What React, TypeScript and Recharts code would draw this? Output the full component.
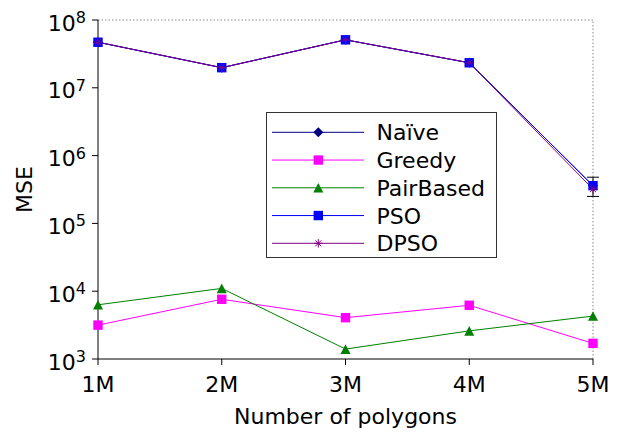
import React from 'react';
import { LineChart, Line, XAxis, YAxis, ReferenceLine, Legend, ErrorBar, Label } from 'recharts';

// Mean squared error per method, by polygon count
const categories = ['1M', '2M', '3M', '4M', '5M'];
const naive = [4.7e7, 1.98e7, 5.1e7, 2.34e7, 3.6e5];
const greedy = [3.16e3, 7.6e3, 4.07e3, 6.2e3, 1.7e3];
const pairBased = [6.3e3, 1.1e4, 1.4e3, 2.6e3, 4.3e3];
const pso = [4.7e7, 1.98e7, 5.1e7, 2.34e7, 3.6e5];
const dpso = [4.7e7, 1.98e7, 5.1e7, 2.34e7, 3.2e5];
// [below, above] error extents for DPSO
const dpsoErr: (number[] | null)[] = [null, null, null, null, [0.7e5, 1.6e5]];
const yTicks = [1e3, 1e4, 1e5, 1e6, 1e7, 1e8];

const data = categories.map((c, i) => ({
  x: c,
  naive: naive[i],
  greedy: greedy[i],
  pairBased: pairBased[i],
  pso: pso[i],
  dpso: dpso[i],
  dpsoErr: dpsoErr[i],
}));

const FONT = 'DejaVu Sans';

const COLORS = {
  naive: '#000080',
  greedy: '#ff00ff',
  pairBased: '#008000',
  pso: '#0000ff',
  dpso: '#800080',
};

type MarkerKind = 'diamond' | 'square' | 'triangle' | 'star';

const Marker = ({ kind, cx, cy, color }: { kind: MarkerKind; cx: number; cy: number; color: string }) => {
  if (kind === 'diamond') {
    const r = 5;
    return <polygon points={`${cx},${cy - r} ${cx + r},${cy} ${cx},${cy + r} ${cx - r},${cy}`} fill={color} />;
  }
  if (kind === 'square') {
    const r = 4.7;
    return <rect x={cx - r} y={cy - r} width={2 * r} height={2 * r} fill={color} />;
  }
  if (kind === 'triangle') {
    const w = 5;
    const h = 4.8;
    return <polygon points={`${cx},${cy - h} ${cx + w},${cy + h} ${cx - w},${cy + h}`} fill={color} />;
  }
  const r = 4.2;
  const d = r * 0.707;
  return (
    <g stroke={color} strokeWidth={1}>
      <line x1={cx - r} y1={cy} x2={cx + r} y2={cy} />
      <line x1={cx} y1={cy - r} x2={cx} y2={cy + r} />
      <line x1={cx - d} y1={cy - d} x2={cx + d} y2={cy + d} />
      <line x1={cx - d} y1={cy + d} x2={cx + d} y2={cy - d} />
    </g>
  );
};

const dotOf = (kind: MarkerKind, color: string) => (p: any) => (
  <Marker key={`${kind}-${color}-${p.index}`} kind={kind} cx={p.cx} cy={p.cy} color={color} />
);

const YTick = ({ x, y, payload }: any) => {
  const exp = Math.round(Math.log10(payload.value));
  return (
    <text x={x} y={y} textAnchor="end" fontSize={22} fill="#000" fontFamily={FONT}>
      <tspan dy={10.5}>10</tspan>
      <tspan fontSize={16} dy={-7.5}>{exp}</tspan>
    </text>
  );
};

const legendItems: { name: string; color: string; kind: MarkerKind }[] = [
  { name: 'Naïve', color: COLORS.naive, kind: 'diamond' },
  { name: 'Greedy', color: COLORS.greedy, kind: 'square' },
  { name: 'PairBased', color: COLORS.pairBased, kind: 'triangle' },
  { name: 'PSO', color: COLORS.pso, kind: 'square' },
  { name: 'DPSO', color: COLORS.dpso, kind: 'star' },
];

const LegendBox = () => (
  <svg width={232} height={147} style={{ display: 'block', overflow: 'visible' }}>
    <rect x={0.5} y={0.5} width={230} height={145} fill="#fff" stroke="#333" strokeWidth={1} />
    {legendItems.map((it, i) => {
      const y = 20.3 + i * 27.75;
      return (
        <g key={it.name}>
          <line x1={6} y1={y} x2={98} y2={y} stroke={it.color} strokeWidth={1} />
          <Marker kind={it.kind} cx={52.3} cy={y} color={it.color} />
          <text x={110.5} y={y + 8} fontSize={22} fontFamily={FONT} fill="#000">
            {it.name}
          </text>
        </g>
      );
    })}
  </svg>
);

const YLabel = ({ viewBox }: any) => {
  const cx = 16.5;
  const cy = viewBox.y + viewBox.height / 2;
  return (
    <text
      x={cx}
      y={cy}
      transform={`rotate(-90 ${cx} ${cy})`}
      textAnchor="middle"
      dominantBaseline="central"
      fontSize={22}
      fontFamily={FONT}
      fill="#000"
    >
      MSE
    </text>
  );
};

export default function App() {
  return (
    <LineChart
      width={616}
      height={424}
      data={data}
      margin={{ top: 12, right: 31, left: 0, bottom: 0 }}
      style={{ fontFamily: FONT }}
    >
      <XAxis
        dataKey="x"
        height={73}
        tickSize={6}
        tickMargin={11}
        stroke="#000"
        tick={{ fontSize: 22, fill: '#000', fontFamily: FONT }}
        axisLine={{ stroke: '#000' }}
        tickLine={{ stroke: '#000' }}
      >
        <Label value="Number of polygons" position="insideBottom" offset={8} fontSize={22} fill="#000" fontFamily={FONT} />
      </XAxis>
      <YAxis
        scale="log"
        domain={[1e3, 1e8]}
        ticks={yTicks}
        width={90}
        tickSize={6}
        tickMargin={6}
        tick={<YTick />}
        axisLine={{ stroke: '#000' }}
        tickLine={{ stroke: '#000' }}
        interval={0}
      >
        <Label content={<YLabel />} />
      </YAxis>
      <ReferenceLine y={1e8} stroke="#888" strokeDasharray="1.5 2" ifOverflow="extendDomain" />
      <ReferenceLine x="5M" stroke="#888" strokeDasharray="1.5 2" />
      <Line
        dataKey="naive"
        name="Naïve"
        stroke={COLORS.naive}
        strokeWidth={1}
        dot={dotOf('diamond', COLORS.naive)}
        activeDot={false}
        isAnimationActive={false}
      />
      <Line
        dataKey="greedy"
        name="Greedy"
        stroke={COLORS.greedy}
        strokeWidth={1}
        dot={dotOf('square', COLORS.greedy)}
        activeDot={false}
        isAnimationActive={false}
      />
      <Line
        dataKey="pairBased"
        name="PairBased"
        stroke={COLORS.pairBased}
        strokeWidth={1}
        dot={dotOf('triangle', COLORS.pairBased)}
        activeDot={false}
        isAnimationActive={false}
      />
      <Line
        dataKey="pso"
        name="PSO"
        stroke={COLORS.pso}
        strokeWidth={1}
        dot={dotOf('square', COLORS.pso)}
        activeDot={false}
        isAnimationActive={false}
      />
      <Line
        dataKey="dpso"
        name="DPSO"
        stroke={COLORS.dpso}
        strokeWidth={1}
        dot={dotOf('star', COLORS.dpso)}
        activeDot={false}
        isAnimationActive={false}
      >
        <ErrorBar dataKey="dpsoErr" direction="y" width={6} stroke="#000" strokeWidth={1} isAnimationActive={false} />
      </Line>
      <Legend
        layout="vertical"
        align="center"
        verticalAlign="middle"
        content={<LegendBox />}
        wrapperStyle={{ position: 'absolute', left: 258, top: 104, width: 232, height: 147 }}
      />
    </LineChart>
  );
}
